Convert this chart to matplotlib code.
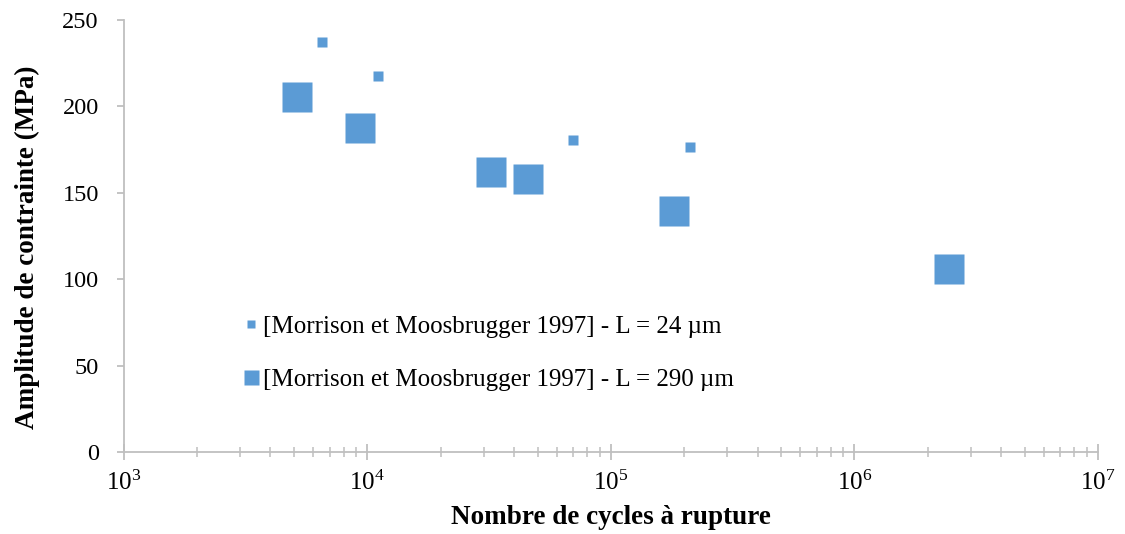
import numpy as np
import matplotlib.pyplot as plt
from matplotlib.ticker import LogLocator, FixedLocator

plt.rcParams['font.family'] = ['Liberation Serif', 'DejaVu Serif']
plt.rcParams['mathtext.fontset'] = 'custom'
plt.rcParams['mathtext.rm'] = 'Liberation Serif'

# data
n_24 = [6500, 11100, 69600, 211000]
s_24 = [237, 217.5, 180.5, 176.5]
n_290 = [5130, 9300, 32100, 45600, 181000, 2440000]
s_290 = [205.5, 187.5, 162, 158, 139.5, 106]
lab_24 = "[Morrison et Moosbrugger 1997] - L = 24 µm"
lab_290 = "[Morrison et Moosbrugger 1997] - L = 290 µm"
y_ticks = [0, 50, 100, 150, 200, 250]

blue = '#5B9BD5'
grey = '#BFBFBF'

fig = plt.figure(figsize=(11.25, 5.34), dpi=100)
ax = fig.add_axes([0.110, 0.1536, 0.866, 0.809])

ax.plot(n_24, s_24, 's', color=blue, ms=6.5, mec='none', label=lab_24)
ax.plot(n_290, s_290, 's', color=blue, ms=21.5, mec='none', label=lab_290)

ax.set_xscale('log')
ax.set_xlim(1e3, 1e7)
ax.set_ylim(0, 250)
ax.yaxis.set_major_locator(FixedLocator(y_ticks))
ax.xaxis.set_minor_locator(LogLocator(base=10, subs=np.arange(2, 10)))

for s in ['top', 'right']:
    ax.spines[s].set_visible(False)
for s in ['left', 'bottom']:
    ax.spines[s].set_color(grey)
    ax.spines[s].set_linewidth(1.3)

ax.tick_params(axis='y', direction='out', length=5, width=1.3, color=grey,
               labelsize=17.5, pad=13)
ax.tick_params(axis='x', which='major', direction='inout', length=11, width=1.3,
               color=grey, labelsize=18, pad=8)
ax.tick_params(axis='x', which='minor', direction='inout', length=7.5, width=1.1,
               color=grey)

ax.set_xlabel('Nombre de cycles à rupture', fontsize=19.5, fontweight='bold')
ax.set_ylabel('Amplitude de contrainte (MPa)', fontsize=19.5, fontweight='bold')
ax.xaxis.set_label_coords(0.5, -0.122)
ax.yaxis.set_label_coords(-0.086, 0.475)

leg = ax.legend(loc='center left', bbox_to_anchor=(0.124, 0.229), frameon=False,
                fontsize=18, handletextpad=0.23, labelspacing=1.24, handlelength=0.5,
                borderpad=0, borderaxespad=0)
leg.legend_handles[0].set_markersize(5.5)
leg.legend_handles[1].set_markersize(10.8)

fig.savefig('out.png', dpi=100)
plt.close(fig)
